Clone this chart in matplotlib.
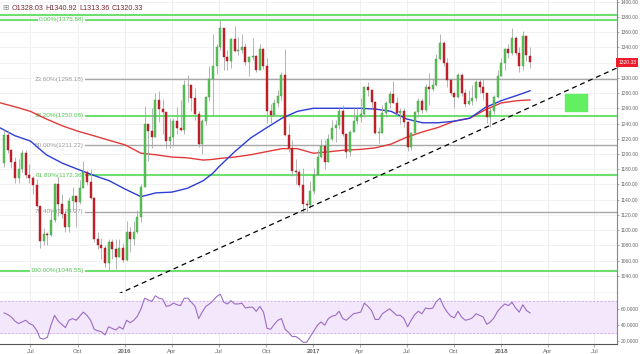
import numpy as np
import pandas as pd
import matplotlib
matplotlib.use('Agg')
import matplotlib.pyplot as plt
import matplotlib.dates as mdates
import matplotlib.transforms as mtrans

plt.rcParams['font.family'] = ['Liberation Sans', 'DejaVu Sans']

# weekly candles, week starting 2015-05-11
week_start = '2015-05-11'
first_open = 1188.0
last_open = 1328.03

closes = [1225, 1205, 1190, 1169, 1180, 1201, 1173, 1168, 1159, 1132,
          1086, 1095, 1094, 1113, 1160, 1134, 1121, 1104, 1138, 1145,
          1137, 1156, 1176, 1163, 1142, 1088, 1081, 1076, 1057, 1085,
          1075, 1065, 1076, 1061,
          1098, 1089, 1097, 1117, 1157, 1239, 1230, 1222, 1271, 1259,
          1255, 1217, 1222, 1243, 1234, 1232, 1290, 1290, 1273, 1252,
          1213, 1243, 1275, 1298, 1316, 1340, 1366, 1327, 1322, 1351,
          1335, 1336, 1341, 1321, 1327, 1328, 1310, 1338, 1316, 1257,
          1251, 1267, 1276, 1304, 1225, 1208, 1178, 1177, 1159, 1134,
          1133, 1151,
          1173, 1196, 1210, 1190, 1220, 1234, 1238, 1257, 1226, 1202,
          1229, 1243, 1249, 1253, 1288, 1284, 1268, 1228, 1228, 1254,
          1267, 1279, 1267, 1254, 1256, 1242, 1209, 1228, 1255, 1269,
          1258, 1288, 1285, 1291, 1325, 1346, 1320, 1297, 1280, 1275,
          1304, 1280, 1266, 1269, 1274, 1294, 1288, 1280, 1248, 1257,
          1275, 1303,
          1320, 1338, 1332, 1352, 1333, 1316, 1355, 1330, 1320.33]

highs = [1232, 1232, 1207, 1196, 1193, 1205, 1205, 1187, 1171, 1167,
         1132, 1103, 1098, 1126, 1162, 1170, 1147, 1126, 1143, 1157,
         1145, 1166, 1191, 1178, 1180, 1143, 1097, 1090, 1081, 1088,
         1088, 1089, 1088, 1083,
         1112, 1104, 1112, 1127, 1160, 1263, 1240, 1260, 1280, 1283,
         1272, 1255, 1247, 1247, 1262, 1271, 1297, 1304, 1290, 1287,
         1257, 1246, 1276, 1315, 1358, 1345, 1375.88, 1366, 1337, 1352,
         1368, 1353, 1357, 1346, 1329, 1352, 1330, 1344, 1339, 1326,
         1265, 1272, 1284, 1307, 1338, 1240, 1218, 1194, 1179, 1181,
         1140, 1164,
         1182, 1207, 1220, 1219, 1226, 1244, 1244, 1261, 1264, 1227,
         1232, 1261, 1260, 1274, 1289, 1295, 1285, 1269, 1236, 1264,
         1270, 1283, 1296, 1275, 1260, 1261, 1243, 1229, 1256, 1274,
         1274, 1292, 1306, 1298, 1331, 1357, 1348, 1326, 1299, 1281,
         1306, 1306, 1285, 1284, 1290, 1297, 1299, 1298, 1280, 1260,
         1277, 1310,
         1326, 1339, 1345, 1366, 1355, 1340, 1362, 1355, 1340.92]

lows = [1183, 1201, 1181, 1162, 1162, 1176, 1168, 1162, 1147, 1130,
        1077, 1080, 1080, 1093, 1111, 1118, 1116, 1098, 1097, 1125,
        1104, 1135, 1155, 1159, 1141, 1085, 1075, 1062, 1052, 1046.55,
        1062, 1049, 1065, 1058,
        1060, 1072, 1080, 1096, 1111, 1157, 1191, 1208, 1222, 1242,
        1226, 1208, 1208, 1211, 1226, 1230, 1226, 1268, 1256, 1245,
        1209, 1200, 1238, 1269, 1250, 1305, 1337, 1310, 1310, 1313,
        1334, 1330, 1333, 1317, 1302, 1323, 1308, 1310, 1311, 1241,
        1241, 1250, 1262, 1271, 1223, 1203, 1171, 1160, 1157, 1122,
        1124, 1129,
        1147, 1172, 1195, 1180, 1189, 1217, 1216, 1233, 1224, 1195,
        1197, 1229, 1240, 1242, 1248, 1276, 1261, 1226, 1214, 1227,
        1248, 1260, 1267, 1251, 1240, 1236, 1204, 1205, 1227, 1248,
        1254, 1255, 1264, 1283, 1289, 1323, 1315, 1288, 1277, 1261,
        1274, 1276, 1262, 1264, 1264, 1270, 1280, 1271, 1241, 1236,
        1253, 1274,
        1302, 1310, 1326, 1330, 1330, 1307, 1310, 1322, 1313.36]

rsi = [55, 53, 50, 45, 42, 44, 46, 42, 40, 34,
       24, 23, 25, 40, 52, 45, 41, 37, 46, 48,
       46, 51, 56, 52, 46, 35, 33, 32, 28, 38,
       36, 34, 38, 35, 46, 43, 46, 51, 60, 73,
       71, 69, 76, 73, 72, 63, 64, 67, 65, 64,
       73, 73, 68, 63, 48, 56, 63, 66, 70, 75,
       78, 68, 66, 70, 66, 66, 67, 61, 62, 62,
       57, 63, 56, 36, 35, 41, 46, 48, 35, 31,
       26, 26, 23, 19, 19, 26, 33, 40, 44, 40,
       48, 51, 52, 57, 48, 46, 50, 54, 55, 56,
       67, 63, 58, 47, 47, 54, 57, 60, 56, 52,
       52, 48, 38, 46, 53, 57, 54, 61, 60, 61,
       69, 73, 63, 56, 51, 49, 57, 50, 46, 47,
       49, 54, 52, 50, 41, 44, 49, 57, 62, 66,
       64, 68, 61, 56, 65, 58, 55]

# moving averages
ma_dates = ['2015-05-04', '2015-06-01', '2015-07-01', '2015-08-01', '2015-09-01',
            '2015-10-01', '2015-11-01', '2015-12-01', '2016-01-01', '2016-02-01',
            '2016-03-01', '2016-04-01', '2016-05-01', '2016-06-01', '2016-06-20',
            '2016-07-01', '2016-08-01', '2016-09-01', '2016-10-01', '2016-11-01',
            '2016-12-01', '2017-01-01', '2017-02-01', '2017-03-01', '2017-04-01',
            '2017-05-01', '2017-06-01', '2017-07-01', '2017-08-01', '2017-09-01',
            '2017-10-01', '2017-11-01', '2017-12-01', '2018-01-01', '2018-02-01',
            '2018-02-26']
ma_fast = [1234, 1224, 1217, 1199, 1188, 1180, 1172, 1165, 1154, 1144,
           1149, 1150, 1155, 1165, 1175, 1183, 1203, 1221, 1234, 1247,
           1256, 1260, 1260, 1260, 1260, 1259, 1256, 1246, 1241, 1241,
           1243, 1247, 1261, 1270, 1277, 1283]
ma_slow = [1267, 1262, 1256, 1246, 1237, 1230, 1224, 1218, 1212, 1201,
           1199, 1196, 1195, 1192, 1193, 1194, 1196, 1199, 1203, 1207,
           1207, 1201, 1203, 1205, 1206, 1208, 1213, 1222, 1229, 1235,
           1243, 1247, 1258, 1267, 1270, 1271]

fib_pct = ['0.00%', '23.60%', '38.20%', '50.00%', '61.80%', '76.40%', '100.00%']
fib_levels = [1375.88, 1298.18, 1250.08, 1211.22, 1172.36, 1124.27, 1046.55]
fib_green = [True, False, True, False, True, False, True]

trend_dates = ['2015-12-18', '2018-08-14']
trend_prices = [1016, 1313]

box_dates = ['2018-05-05', '2018-06-16']
box_prices = [1256.5, 1278.8]

price_ticks = [v for v in range(1040, 1401, 20) if v != 1320]

tick_dates = ['2015-07-01', '2015-10-01', '2016-01-01', '2016-04-01', '2016-07-01',
              '2016-10-01', '2017-01-01', '2017-04-01', '2017-07-01', '2017-10-01',
              '2018-01-01', '2018-04-01', '2018-07-01']
tick_labels = ['Jul', 'Oct', '2016', 'Apr', 'Jul', 'Oct', '2017', 'Apr', 'Jul', 'Oct',
               '2018', 'Apr', 'Jul']

GREEN = '#5cc35c'
RED = '#c9202b'
FIBG = '#6fe06f'
GREY = '#666666'

def dn(d):
    return mdates.date2num(pd.to_datetime(d))

x = mdates.date2num(pd.date_range(week_start, periods=len(closes), freq='7D'))
c = np.array(closes, dtype=float)
o = np.array([first_open] + closes[:-1], dtype=float)
o[-1] = last_open
h = np.maximum(np.array(highs, dtype=float), np.maximum(o, c))
l = np.minimum(np.array(lows, dtype=float), np.minimum(o, c))

fig = plt.figure(figsize=(6.4, 3.54), dpi=100)
W = 617 / 640
ax = fig.add_axes([0, 1 - 293 / 354, W, 293 / 354])
ar = fig.add_axes([0, 1 - 344 / 354, W, 51 / 354], sharex=ax)

ax.set_xlim(dn('2015-05-03'), dn('2018-08-14'))
ax.set_ylim(1017.6, 1402.1)
ar.set_ylim(16.9, 79.4)

# grid
for a in (ax, ar):
    for d in tick_dates:
        a.axvline(dn(d), color='#ececec', lw=0.6, zorder=0)
for v in range(1040, 1401, 20):
    ax.axhline(v, color='#f0f0f0', lw=0.6, zorder=0)

# fibonacci levels
blend = mtrans.blended_transform_factory(ax.transAxes, ax.transData)
for pct, lvl, g in zip(fib_pct, fib_levels, fib_green):
    col = FIBG if g else '#a8a8a8'
    start = 0.0 if pct in ('0.00%', '100.00%') else 0.138
    ax.plot([start, 1], [lvl, lvl], transform=blend, color=col,
            lw=1.5 if g else 1.0, zorder=1)
    ax.text(0.136, lvl, f'{pct}({lvl:.2f})', transform=blend, ha='right', va='center',
            fontsize=4.6, color='#52c452' if g else '#9a9a9a', zorder=2,
            bbox=dict(boxstyle='square,pad=0.1', fc='white', ec='none'))
ax.plot([0, 1], [1382, 1382], transform=blend, color=FIBG, lw=1.5, zorder=1)

# moving averages
md = [dn(d) for d in ma_dates]
ax.plot(md, ma_slow, color='#e23a3a', lw=1.0, zorder=2)
ax.plot(md, ma_fast, color='#2d3ed6', lw=1.0, zorder=2)

# trendline and target box
ax.plot([dn(d) for d in trend_dates], trend_prices, color='black', lw=0.9,
        dashes=(4, 3), zorder=5)
ax.fill_between([dn(d) for d in box_dates], box_prices[0], box_prices[1],
                color='#62f062', zorder=2)

# candles
up = c >= o
ax.vlines(x, l, h, color='#a8a8a8', lw=0.6, zorder=3)
ax.bar(x[up], np.maximum((c - o)[up], 0.8), bottom=o[up], width=3.9,
       color=GREEN, edgecolor='#3f9f3f', lw=0.3, zorder=4)
ax.bar(x[~up], np.maximum((o - c)[~up], 0.8), bottom=c[~up], width=3.9,
       color=RED, edgecolor='#9e1820', lw=0.3, zorder=4)

# axes styling
for a in (ax, ar):
    a.spines['left'].set_visible(False)
    a.spines['top'].set_visible(False)
    a.spines['right'].set_color('#888888')
    a.spines['bottom'].set_color('#555555')
    a.spines['right'].set_linewidth(0.8)
    a.spines['bottom'].set_linewidth(0.8)
    a.yaxis.tick_right()
    a.tick_params(axis='y', labelsize=3.5, colors='#888888', labelcolor=GREY,
                  length=1.5, width=0.5, pad=1)

ax.set_yticks(price_ticks)
ax.set_yticklabels([f'{v:.2f}' for v in price_ticks])
ax.tick_params(axis='x', length=0, labelbottom=False)

ax.text(1.002, closes[-1], f'{closes[-1]:.2f}', transform=blend, ha='left', va='center',
        fontsize=3.6, color='white', clip_on=False, zorder=10,
        bbox=dict(boxstyle='square,pad=0.35', fc='#ec1c2c', ec='none'))

# rsi panel
ar.axhspan(30, 70, color='#f3e7fc', zorder=0)
for v in (30, 70):
    ar.axhline(v, color='#cfaee6', lw=0.6, dashes=(2.5, 2), zorder=1)
ar.plot(x, rsi, color='#9c6cc4', lw=0.8, zorder=3)
ar.set_yticks([20, 40, 60])
ar.set_yticklabels(['20.0000', '40.0000', '60.0000'])

ar.set_xticks([dn(d) for d in tick_dates])
ar.set_xticklabels(tick_labels)
ar.tick_params(axis='x', labelsize=4.3, labelcolor=GREY, colors='#888888',
               length=2, width=0.5, pad=1.5)
for t in ar.get_xticklabels():
    if t.get_text().startswith('20'):
        t.set_fontweight('bold')

# header
fig.text(5 / 640, 1 - 8 / 354, '\u229e', fontsize=5.5, color='#8a8a8a',
         va='center', ha='center', family=['DejaVu Sans'])
for xp, s in zip([12, 45, 79, 112], ['O1328.03', 'H1340.92', 'L1313.36', 'C1320.33']):
    fig.text(xp / 640, 1 - 8 / 354, s, fontsize=5.2, color='#7c2a3c', va='center')

fig.savefig('out.png', dpi=100, facecolor='white')
